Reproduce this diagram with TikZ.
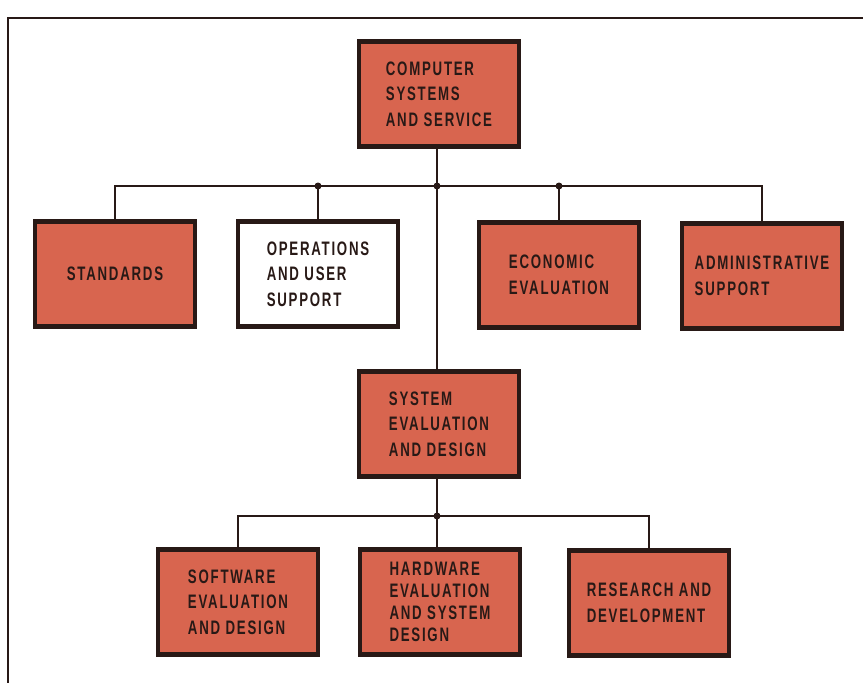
\documentclass[tikz,border=0pt]{standalone}
\usepackage{fontspec}
\usepackage{xcolor}
\usepackage{tikz}
\usetikzlibrary{positioning, calc}
\newfontfamily\boxfont{Liberation Sans Bold}[FakeStretch=0.68,LetterSpace=9]

\definecolor{boxred}{RGB}{216,101,79}
\definecolor{boxedge}{RGB}{40,25,22}

\tikzset{
    unit/.style={draw=boxedge, line width=4.5pt, fill=boxred, minimum width=160pt,
        minimum height=105pt, inner sep=0pt, align=left, text=boxedge,
        font=\boxfont\fontsize{19.5}{25.5}\selectfont},
    plainunit/.style={unit, fill=white},
    wire/.style={line width=2pt, draw=boxedge},
    joint/.style={circle, fill=boxedge, inner sep=0pt, minimum size=7pt}
}

\begin{document}
\begin{tikzpicture}[x=1pt,y=-1pt]

    \useasboundingbox (0,0) rectangle (863,683);

    % --- Frame (top and left edges) ---
    \draw[wire] (8,683) -- (8,18) -- (863,18);

    % --- Top unit ---
    \node[unit] (css) at (439,94) {COMPUTER\\SYSTEMS\\AND SERVICE};

    % --- Second row ---
    \node[unit] (std) at (115,274) {STANDARDS};
    \node[plainunit] (ops) at (318,274) {OPERATIONS\\AND USER\\SUPPORT};
    \node[unit] (econ) at (559,275) {ECONOMIC\\EVALUATION};
    \node[unit] (admin) at (762,276) {ADMINISTRATIVE\\SUPPORT};

    % --- Middle unit ---
    \node[unit] (sed) at (439,424) {SYSTEM\\EVALUATION\\AND DESIGN};

    % --- Bottom row ---
    \node[unit] (soft) at (238,602) {SOFTWARE\\EVALUATION\\AND DESIGN};
    \node[unit, font=\boxfont\fontsize{19.5}{22}\selectfont] (hard) at (440,602)
        {HARDWARE\\EVALUATION\\AND SYSTEM\\DESIGN};
    \node[unit] (rnd) at (649,603) {RESEARCH AND\\DEVELOPMENT};

    % --- Upper bus ---
    \coordinate (bus) at (437,186);
    \draw[wire] (css.south -| bus) -- (sed.north -| bus);
    \draw[wire] (std.north) |- (bus) -| (admin.north);
    \draw[wire] (ops.north) -- (ops.north |- bus);
    \draw[wire] (econ.north) -- (econ.north |- bus);
    \node[joint] (j1) at (ops.north |- bus) {};
    \node[joint] (j2) at (bus) {};
    \node[joint] (j3) at (econ.north |- bus) {};

    % --- Lower bus ---
    \coordinate (lbus) at (437,516);
    \draw[wire] (sed.south -| lbus) -- (hard.north -| lbus);
    \draw[wire] (soft.north) |- (lbus) -| (rnd.north);
    \node[joint] (j4) at (lbus) {};

\end{tikzpicture}
\end{document}
